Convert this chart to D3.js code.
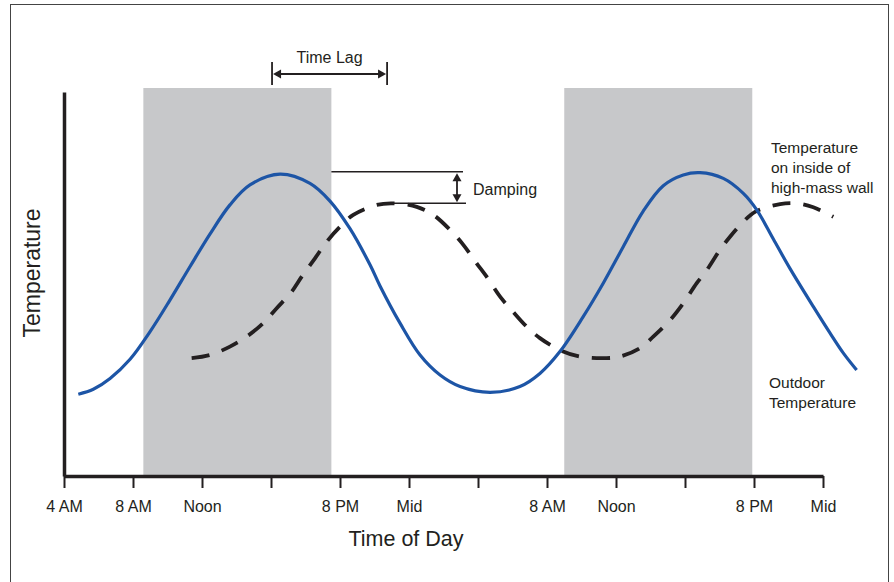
<!DOCTYPE html>
<html>
<head>
<meta charset="utf-8">
<script src="https://cdn.jsdelivr.net/npm/d3@7"></script>
<style>
  body { margin: 0; background: #fff; }
  text { font-family: "Liberation Sans", Arial, sans-serif; fill: #231f20; }
</style>
</head>
<body>
<svg id="chart" width="894" height="582"></svg>
<script>
// hours since midnight of day 1, ticks every 4 hours
const tickHours = [4, 8, 12, 16, 20, 24, 28, 32, 36, 40, 44, 48];
const tickLabels = ['4 AM', '8 AM', 'Noon', '', '8 PM', 'Mid', '', '8 AM', 'Noon', '', '8 PM', 'Mid'];

// daylight bands (start hour, end hour)
const bandStart = [8.6, 33.0];
const bandEnd = [19.5, 43.9];

// outdoor temperature (relative units)
const outdoorHours = [4.83, 5.7, 6.67, 7.83, 8.99, 10.14, 11.3, 12.46, 13.62, 14.78, 16.52, 18.26, 19.42, 20.58, 21.74, 22.32, 23.48, 24.64, 25.8, 26.96, 28.7, 30.43, 31.59, 32.75, 34.1, 35.26, 36.42, 37.58, 38.74, 39.9, 40.87, 42.22, 43.38, 44.16, 45.12, 46.09, 47.44, 48.41, 49.18, 49.95];
const outdoorTemp = [21.3, 22.6, 25.4, 30.4, 37.6, 45.8, 54.5, 63.0, 70.6, 75.8, 78.6, 76.2, 71.6, 64.4, 55.0, 49.5, 39.8, 31.5, 26.3, 23.3, 21.8, 23.3, 26.7, 32.4, 41.5, 50.2, 59.7, 69.0, 75.6, 78.4, 79.0, 77.5, 73.6, 69.3, 61.7, 54.0, 44.1, 37.2, 32.0, 27.6];

// temperature on inside of high-mass wall
const wallHours = [11.4, 12.46, 13.62, 14.59, 15.55, 16.33, 17.2, 17.78, 18.55, 19.23, 20.0, 20.77, 22.13, 23.09, 24.45, 25.41, 26.38, 27.15, 27.92, 28.5, 29.28, 29.95, 30.82, 31.59, 32.75, 33.91, 35.46, 36.23, 37.39, 38.16, 39.13, 39.9, 40.68, 41.26, 42.03, 42.61, 43.38, 44.06, 45.51, 46.48, 47.44, 48.6];
const wallTemp = [30.7, 31.5, 33.7, 36.3, 39.8, 43.7, 48.0, 51.9, 56.7, 61.0, 64.9, 68.0, 70.6, 71.0, 70.1, 68.0, 64.1, 60.2, 55.4, 51.9, 46.7, 43.2, 38.9, 35.9, 32.8, 31.1, 30.7, 31.1, 33.3, 36.3, 40.6, 45.0, 50.2, 53.6, 58.9, 62.3, 66.2, 68.8, 70.8, 71.0, 70.0, 67.5];

// annotations
const lagFrom = 16.06, lagTo = 22.73;
const outdoorLabel = ['Outdoor', 'Temperature'];
const wallLabel = ['Temperature', 'on inside of', 'high-mass wall'];

const svg = d3.select('#chart');
const ink = '#231f20';

const x = d3.scaleLinear().domain([4, 48]).range([64, 823]);
const y = d3.scaleLinear().domain([0, 100]).range([476, 92]);

// frame
svg.append('rect')
  .attr('x', 10.5).attr('y', 4.5)
  .attr('width', 878).attr('height', 620)
  .attr('fill', 'none').attr('stroke', '#444').attr('stroke-width', 1);

// daylight bands
svg.append('g').selectAll('rect')
  .data(bandStart.map((s, i) => ({ s, e: bandEnd[i] })))
  .join('rect')
  .attr('x', (d) => x(d.s))
  .attr('width', (d) => x(d.e) - x(d.s))
  .attr('y', y(100) - 4)
  .attr('height', y(0) - y(100) + 4)
  .attr('fill', '#c7c8ca');

// axes
const xAxis = svg.append('g')
  .attr('transform', `translate(0,${y(0)})`)
  .call(d3.axisBottom(x).tickValues(tickHours)
    .tickFormat((d, i) => tickLabels[i])
    .tickSize(12).tickSizeOuter(0).tickPadding(13));
xAxis.select('.domain').attr('stroke', ink).attr('stroke-width', 3.5);
xAxis.selectAll('.tick line').attr('stroke', ink).attr('stroke-width', 2);
xAxis.selectAll('.tick text').attr('font-size', 16)
  .attr('font-family', '"Liberation Sans", Arial, sans-serif').attr('fill', ink);

const yAxis = svg.append('g')
  .attr('transform', `translate(${x(4)},0)`)
  .call(d3.axisLeft(y).ticks(0).tickSize(0).tickSizeOuter(0));
yAxis.select('.domain').attr('stroke', ink).attr('stroke-width', 3.5);

// axis titles
svg.append('text')
  .attr('x', 406).attr('y', 546)
  .attr('text-anchor', 'middle')
  .attr('font-size', 21.5)
  .text('Time of Day');

svg.append('text')
  .attr('transform', 'translate(40,273) rotate(-90)')
  .attr('text-anchor', 'middle')
  .attr('font-size', 23)
  .text('Temperature');

// curves
const line = d3.line()
  .x((d) => x(d[0]))
  .y((d) => y(d[1]))
  .curve(d3.curveCatmullRom.alpha(0.5));

svg.append('path')
  .datum(wallHours.map((h, i) => [h, wallTemp[i]]))
  .attr('d', line)
  .attr('fill', 'none')
  .attr('stroke', ink)
  .attr('stroke-width', 3.8)
  .attr('stroke-dasharray', '18,13');

svg.append('path')
  .datum(outdoorHours.map((h, i) => [h, outdoorTemp[i]]))
  .attr('d', line)
  .attr('fill', 'none')
  .attr('stroke', '#1d55a6')
  .attr('stroke-width', 3.2);

// arrowhead helper: tip at (tx,ty), pointing in direction (dx,dy)
function arrowHead(g, tx, ty, dx, dy) {
  const len = 8, half = 4.5;
  const bx = tx - dx * len, by = ty - dy * len;
  const px = -dy * half, py = dx * half;
  g.append('path')
    .attr('d', `M${tx},${ty}L${bx + px},${by + py}L${bx - px},${by - py}Z`)
    .attr('fill', ink);
}

// time lag annotation
const lag = svg.append('g');
const lagY = 74;
[lagFrom, lagTo].forEach((h) => {
  lag.append('line')
    .attr('x1', x(h)).attr('x2', x(h))
    .attr('y1', lagY - 12).attr('y2', lagY + 11)
    .attr('stroke', ink).attr('stroke-width', 1.8);
});
lag.append('line')
  .attr('x1', x(lagFrom) + 6).attr('x2', x(lagTo) - 6)
  .attr('y1', lagY).attr('y2', lagY)
  .attr('stroke', ink).attr('stroke-width', 1.8);
arrowHead(lag, x(lagFrom) + 1, lagY, -1, 0);
arrowHead(lag, x(lagTo) - 1, lagY, 1, 0);
lag.append('text')
  .attr('x', (x(lagFrom) + x(lagTo)) / 2).attr('y', 63)
  .attr('text-anchor', 'middle')
  .attr('font-size', 16)
  .text('Time Lag');

// damping annotation
const damp = svg.append('g');
const topY = y(d3.max(outdoorTemp.slice(0, 20)));
const botY = y(d3.max(wallTemp.slice(0, 20)));
const arrowX = 457;
damp.append('line')
  .attr('x1', x(bandEnd[0])).attr('x2', 463)
  .attr('y1', topY - 2.5).attr('y2', topY - 2.5)
  .attr('stroke', ink).attr('stroke-width', 1.5);
damp.append('line')
  .attr('x1', x(22.9)).attr('x2', 466)
  .attr('y1', botY).attr('y2', botY)
  .attr('stroke', ink).attr('stroke-width', 1.5);
damp.append('line')
  .attr('x1', arrowX).attr('x2', arrowX)
  .attr('y1', topY + 5).attr('y2', botY - 5)
  .attr('stroke', ink).attr('stroke-width', 1.8);
arrowHead(damp, arrowX, topY - 1, 0, -1);
arrowHead(damp, arrowX, botY - 1, 0, 1);
damp.append('text')
  .attr('x', 473).attr('y', 195)
  .attr('font-size', 16)
  .text('Damping');

// series labels
svg.append('text')
  .attr('x', 771).attr('y', 153)
  .attr('font-size', 15.5)
  .selectAll('tspan')
  .data(wallLabel)
  .join('tspan')
  .attr('x', 771)
  .attr('dy', (d, i) => (i === 0 ? 0 : 20))
  .text((d) => d);

svg.append('text')
  .attr('x', 769).attr('y', 388)
  .attr('font-size', 15.5)
  .selectAll('tspan')
  .data(outdoorLabel)
  .join('tspan')
  .attr('x', 769)
  .attr('dy', (d, i) => (i === 0 ? 0 : 20))
  .text((d) => d);
</script>
</body>
</html>
